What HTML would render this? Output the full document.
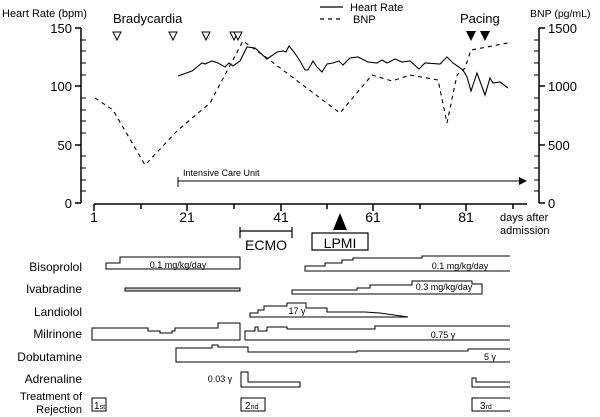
<!DOCTYPE html>
<html><head><meta charset="utf-8"><style>
body{margin:0;background:#fff}
svg{display:block;font-family:"Liberation Sans","Noto Sans CJK JP",sans-serif}
</style></head><body>
<svg width="600" height="417" viewBox="0 0 600 417" xmlns="http://www.w3.org/2000/svg">
<g fill="#000">
<text x="2" y="17" font-size="11">Heart Rate (bpm)</text>
<text x="530" y="17" font-size="10.5">BNP (pg/mL)</text>
<text x="113" y="23" font-size="13">Bradycardia</text>
<text x="460" y="23" font-size="13">Pacing</text>
<text x="350" y="11" font-size="11">Heart Rate</text>
<text x="353" y="23" font-size="11">BNP</text>
</g>
<line x1="320" y1="7" x2="343" y2="7" stroke="#000" stroke-width="1.2"/>
<line x1="320" y1="19" x2="343" y2="19" stroke="#000" stroke-width="1.2" stroke-dasharray="4,4"/>
<g stroke="#000" stroke-width="1.5">
<line x1="81" y1="28" x2="81" y2="203"/>
<line x1="75" y1="28" x2="81" y2="28"/><line x1="75" y1="86" x2="81" y2="86"/><line x1="75" y1="145" x2="81" y2="145"/><line x1="75" y1="203" x2="81" y2="203"/>
<line x1="539" y1="28" x2="539" y2="203"/>
<line x1="539" y1="28" x2="545" y2="28"/><line x1="539" y1="86" x2="545" y2="86"/><line x1="539" y1="145" x2="545" y2="145"/><line x1="539" y1="203" x2="545" y2="203"/>
</g>
<g stroke="#000" stroke-width="1">
<path d="M81 40h5M81 51h5M81 63h5M81 75h5M81 98h5M81 110h5M81 121h5M81 133h5M81 156h5M81 168h5M81 180h5M81 191h5"/>
<path d="M539 40h-5M539 51h-5M539 63h-5M539 75h-5M539 98h-5M539 110h-5M539 121h-5M539 133h-5M539 156h-5M539 168h-5M539 180h-5M539 191h-5"/>
</g>
<g font-size="13" fill="#000">
<text x="72" y="33" text-anchor="end">150</text><text x="72" y="91" text-anchor="end">100</text><text x="72" y="150" text-anchor="end">50</text><text x="72" y="208" text-anchor="end">0</text>
<text x="548" y="33">1500</text><text x="548" y="91">1000</text><text x="548" y="150">500</text><text x="548" y="208">0</text>
</g>
<line x1="94" y1="204" x2="527" y2="204" stroke="#000" stroke-width="1.5"/>
<g stroke="#000" stroke-width="1.5">
<path d="M94 204v7M141 204v5M187 204v7M234 204v5M281 204v7M327 204v5M373 204v7M420 204v5M466 204v7M513 204v5"/>
</g>
<g font-size="14" fill="#000" text-anchor="middle">
<text x="94" y="222">1</text><text x="187" y="222">21</text><text x="281" y="222">41</text><text x="373" y="222">61</text><text x="466" y="222">81</text>
</g>
<text x="500" y="221" font-size="11">days after</text>
<text x="500" y="234" font-size="11">admission</text>
<line x1="178" y1="177" x2="178" y2="187" stroke="#000"/>
<line x1="178" y1="181" x2="521" y2="181" stroke="#000"/>
<polygon points="527,181 519,177 519,185" fill="#000"/>
<text x="183" y="176" font-size="9">Intensive Care Unit</text>
<g fill="#fff" stroke="#000">
<polygon points="113,32 121,32 117,40"/><polygon points="169,32 177,32 173,40"/><polygon points="202,32 210,32 206,40"/><polygon points="230,32 238,32 234,40"/><polygon points="234,32 242,32 238,40"/>
</g>
<g fill="#000"><polygon points="466,31 476,31 471,41"/><polygon points="480,31 490,31 485,41"/></g>
<polyline fill="none" stroke="#000" stroke-width="1.1" points="178,76 192,71 202,63 205,64 212,61 218,63 225,67 229,63 233,66 240,61 247,47 255,48 267,59 277,52 283,51 286,52 289,46 294,52 300,61 305,70 308,70 313,61 317,67 322,72 327,64 333,63 339,61 343,65 350,58 358,57 368,62 377,63 382,60 387,63 395,59 402,62 410,61 419,69 425,63 440,64 447,57 453,63 463,70 467,77 471,91 477,73 485,95 490,78 493,83 500,82 508,88"/>
<polyline fill="none" stroke="#000" stroke-width="1.1" stroke-dasharray="4,4" points="95,98 113,110 145,165 178,130 210,103 243,41 267,58 300,83 340,113 372,75 392,81 410,75 438,80 447,123 457,75 465,68 471,50 508,43"/>
<g stroke="#000" stroke-width="1.2" fill="none">
<path d="M240 227v11M292 227v11M240 231h52"/>
<rect x="312" y="233" width="56" height="17"/>
</g>
<text x="266" y="250" font-size="14" text-anchor="middle">ECMO</text>
<text x="340" y="248" font-size="14" text-anchor="middle">LPMI</text>
<polygon points="340,213 333,230 347,230" fill="#000"/>
<g font-size="12" fill="#000" text-anchor="end">
<text x="82" y="271">Bisoprolol</text><text x="82" y="293">Ivabradine</text><text x="82" y="316">Landiolol</text><text x="82" y="338">Milrinone</text><text x="82" y="361">Dobutamine</text><text x="82" y="383">Adrenaline</text>
<text x="82" y="400" font-size="11">Treatment of</text><text x="82" y="413" font-size="11">Rejection</text>
</g>
<g fill="none" stroke="#000" stroke-width="1">
<path d="M106 269V263H120V257H240V269Z"/>
<path d="M510 256H422V258H353V260H342V263H325V266H305V271H510"/>
<rect x="125" y="288" width="115" height="3" fill="#ccc"/>
<path d="M292 294V290H357V288H370V285H412V281H472V284H482V294H292Z" fill="none"/>
<path d="M250 317V313H258V310H264V306H287V303H306V308H327V312H365L380 313L408 317Z"/>
<path d="M92 340V328H148V331H160V333H172V331H175V328H218V323H240V340Z"/>
<path d="M245 340V331H255V327H258V331H267V327H287V329H375V326H510M245 340H510"/>
<path d="M510 349H468V351H357V352H248V347H218V345H212V348H176V351V362H510"/>
<path d="M241 387V372H248V382H300V387Z"/>
<path d="M510 382H476V378H472V387H510"/>
<rect x="92" y="398" width="14" height="13"/>
<rect x="241" y="398" width="24" height="13"/>
<path d="M510 398H472V411H510"/>
</g>
<g font-size="9" fill="#000">
<text x="178" y="268" text-anchor="middle">0.1 mg/kg/day</text>
<text x="460" y="269" text-anchor="middle">0.1 mg/kg/day</text>
<text x="444" y="290" text-anchor="middle">0.3 mg/kg/day</text>
<text x="297" y="314" text-anchor="middle">17 γ</text>
<text x="443" y="338" text-anchor="middle">0.75 γ</text>
<text x="490" y="360" text-anchor="middle">5 γ</text>
<text x="220" y="382" text-anchor="middle">0.03 γ</text>
<text x="94" y="409" font-size="10">1<tspan font-size="7">st</tspan></text>
<text x="245" y="409" font-size="10">2<tspan font-size="7">nd</tspan></text>
<text x="480" y="409" font-size="10">3<tspan font-size="7">rd</tspan></text>
</g>
</svg>
</body></html>
